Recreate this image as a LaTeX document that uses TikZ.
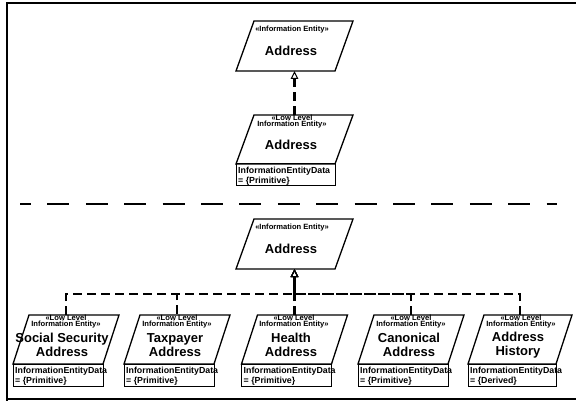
\documentclass[tikz,border=0pt]{standalone}
\usepackage{fontspec}
\setmainfont{Liberation Sans}
\usetikzlibrary{arrows.meta}
\tikzset{
  ent/.style={draw, line width=1.3pt, line join=miter},
  attr/.style={draw, line width=1pt},
  stereo/.style={font=\bfseries\fontsize{7.6}{6.8}\selectfont, align=center, inner sep=0pt},
  ename/.style={font=\bfseries\fontsize{13}{14.5}\selectfont, align=center, inner sep=0pt},
  atext/.style={font=\bfseries\fontsize{8.8}{10}\selectfont, align=left, inner sep=0pt, anchor=west},
  dep/.style={line width=2.2pt, dash pattern=on 9pt off 5pt},
  gen/.style={-{Triangle[open,length=8pt,width=7.5pt,line width=1pt]}},
  sep/.style={line width=2.3pt, dash pattern=on 22pt off 16.4pt, dash phase=11pt},
  frame/.style={line width=2pt}
}
% #1 name, #2 L, #3 T, #4 w, #5 h, #6 skew
\newcommand\ieShape[6]{%
  \draw[ent] (#2,{#3+#5}) -- ({#2+#4},{#3+#5}) -- ({#2+#4+#6},#3) -- ({#2+#6},#3) -- cycle;
  \coordinate (#1-top) at ({#2+(#4+#6)/2},#3);
  \coordinate (#1-bot) at ({#2+(#4+#6)/2},{#3+#5});
}
% #1 name, #2 L, #3 y, #4 w, #5 value
\newcommand\ieAttr[5]{%
  \draw[attr] (#2,#3) rectangle ({#2+#4},{#3+22});
  \node[atext] (#1-a1) at ({#2+2},{#3+7}) {InformationEntityData};
  \node[atext] (#1-a2) at ({#2+2},{#3+17}) {= \{#5\}};
}
\begin{document}
\begin{tikzpicture}[x=1pt,y=-1pt]
\useasboundingbox (0,0) rectangle (576,401);
% frame
\draw[frame] (7,401) -- (7,3) -- (577,3);
\draw[frame] (6,399) -- (577,399);
% separator
\draw[sep] (20,204) -- (557,204);

% upper section
\ieShape{ieA}{236}{21}{99}{50}{18}
\node[stereo] (ieA-s) at (292,30) {«Information Entity»};
\node[ename] (ieA-n) at (291,51) {Address};

\ieShape{llA}{236}{115}{99}{49}{18}
\node[stereo] (llA-s) at (292,121.5) {«Low Level\\Information Entity»};
\node[ename] (llA-n) at (291,145) {Address};
\ieAttr{llA}{236}{164}{99}{Primitive}

\draw[dep,gen] (llA-top) -- (ieA-bot);

% lower section
\ieShape{ieB}{236}{219}{99}{50}{18}
\node[stereo] (ieB-s) at (292,228) {«Information Entity»};
\node[ename] (ieB-n) at (291,249) {Address};

\coordinate (jn) at (294.5,294);

\ieShape{ss}{13}{315}{90}{49}{16}
\node[stereo] (ss-s) at (66,321.5) {«Low Level\\Information Entity»};
\node[ename] (ss-n) at (62,345) {Social Security\\Address};
\ieAttr{ss}{13}{364}{90}{Primitive}

\ieShape{tp}{124}{315}{90}{49}{16}
\node[stereo] (tp-s) at (177,321.5) {«Low Level\\Information Entity»};
\node[ename] (tp-n) at (175,345) {Taxpayer\\Address};
\ieAttr{tp}{124}{364}{90}{Primitive}

\ieShape{he}{241.5}{315}{90}{49}{16}
\node[stereo] (he-s) at (294,321.5) {«Low Level\\Information Entity»};
\node[ename] (he-n) at (291,345) {Health\\Address};
\ieAttr{he}{241.5}{364}{90}{Primitive}

\ieShape{ca}{358}{315}{90}{49}{16}
\node[stereo] (ca-s) at (411,321.5) {«Low Level\\Information Entity»};
\node[ename] (ca-n) at (409,345) {Canonical\\Address};
\ieAttr{ca}{358}{364}{90}{Primitive}

\ieShape{ah}{468}{315}{88}{49}{16}
\node[stereo] (ah-s) at (521,321.5) {«Low Level\\Information Entity»};
\node[ename] (ah-n) at (518,345) {Address\\History};
\ieAttr{ah}{468}{364}{88}{Derived}

% generalisations (left ones share the dash phase so their dashes coincide)
\draw[dep,gen,dash phase=0pt] (ss-top) |- (jn) -- (ieB-bot);
\draw[dep,gen,dash phase=111pt] (tp-top) |- (jn) -- (ieB-bot);
\draw[dep,gen] (he-top) |- (jn) -- (ieB-bot);
\draw[dep,gen] (ca-top) |- (jn) -- (ieB-bot);
\draw[dep,gen] (ah-top) |- (jn) -- (ieB-bot);
\end{tikzpicture}
\end{document}
